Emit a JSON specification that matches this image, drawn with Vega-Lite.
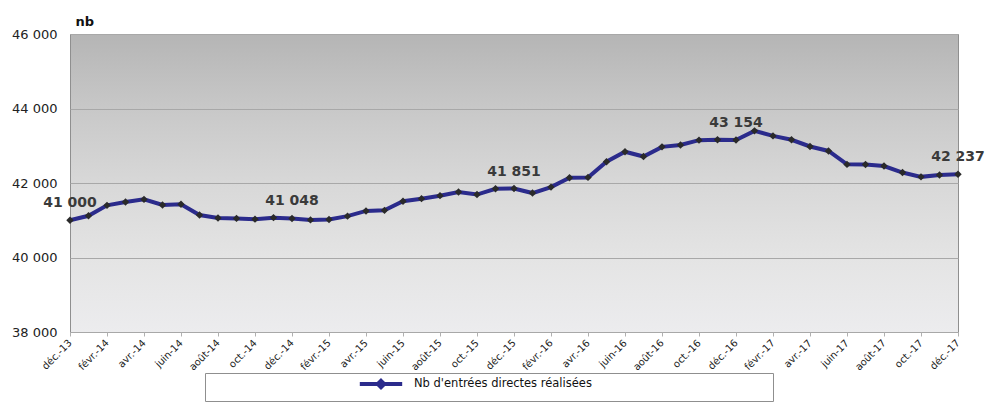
{
  "$schema": "https://vega.github.io/schema/vega-lite/v6.json",
  "width": 888,
  "height": 298,
  "autosize": "none",
  "padding": {"left": 70, "top": 34, "right": 29, "bottom": 86},
  "background": "white",
  "config": {
    "locale": {
      "number": {"decimal": ",", "thousands": " ", "grouping": [3], "currency": ["", " €"]}
    },
    "font": "DejaVu Sans",
    "view": {
      "fill": {
        "gradient": "linear",
        "x1": 0, "y1": 0, "x2": 0, "y2": 1,
        "stops": [
          {"offset": 0, "color": "#b5b5b5"},
          {"offset": 0.25, "color": "#c8c8c8"},
          {"offset": 0.5, "color": "#d8d8d8"},
          {"offset": 0.75, "color": "#e4e4e4"},
          {"offset": 1, "color": "#ececee"}
        ]
      },
      "stroke": "#8f8f8f",
      "strokeWidth": 1
    }
  },
  "data": {
    "values": [
      {"mois": "déc.-13", "nb": 41000},
      {"mois": "janv.-14", "nb": 41120},
      {"mois": "févr.-14", "nb": 41400},
      {"mois": "mars-14", "nb": 41490},
      {"mois": "avr.-14", "nb": 41560},
      {"mois": "mai-14", "nb": 41410},
      {"mois": "juin-14", "nb": 41430},
      {"mois": "juil.-14", "nb": 41140},
      {"mois": "août-14", "nb": 41060},
      {"mois": "sept.-14", "nb": 41050},
      {"mois": "oct.-14", "nb": 41030},
      {"mois": "nov.-14", "nb": 41070},
      {"mois": "déc.-14", "nb": 41048},
      {"mois": "janv.-15", "nb": 41010},
      {"mois": "févr.-15", "nb": 41020},
      {"mois": "mars-15", "nb": 41110},
      {"mois": "avr.-15", "nb": 41250},
      {"mois": "mai-15", "nb": 41266},
      {"mois": "juin-15", "nb": 41510},
      {"mois": "juil.-15", "nb": 41580},
      {"mois": "août-15", "nb": 41660},
      {"mois": "sept.-15", "nb": 41760},
      {"mois": "oct.-15", "nb": 41690},
      {"mois": "nov.-15", "nb": 41845},
      {"mois": "déc.-15", "nb": 41851},
      {"mois": "janv.-16", "nb": 41730},
      {"mois": "févr.-16", "nb": 41890},
      {"mois": "mars-16", "nb": 42140},
      {"mois": "avr.-16", "nb": 42150},
      {"mois": "mai-16", "nb": 42570},
      {"mois": "juin-16", "nb": 42840},
      {"mois": "juil.-16", "nb": 42710},
      {"mois": "août-16", "nb": 42970},
      {"mois": "sept.-16", "nb": 43020},
      {"mois": "oct.-16", "nb": 43150},
      {"mois": "nov.-16", "nb": 43160},
      {"mois": "déc.-16", "nb": 43154},
      {"mois": "janv.-17", "nb": 43400},
      {"mois": "févr.-17", "nb": 43265},
      {"mois": "mars-17", "nb": 43160},
      {"mois": "avr.-17", "nb": 42980},
      {"mois": "mai-17", "nb": 42860},
      {"mois": "juin-17", "nb": 42500},
      {"mois": "juil.-17", "nb": 42495},
      {"mois": "août-17", "nb": 42455},
      {"mois": "sept.-17", "nb": 42280},
      {"mois": "oct.-17", "nb": 42165},
      {"mois": "nov.-17", "nb": 42215},
      {"mois": "déc.-17", "nb": 42237}
    ]
  },
  "encoding": {
    "x": {
      "field": "mois",
      "type": "ordinal",
      "sort": null,
      "scale": {"type": "point", "padding": 0},
      "axis": {
        "title": null,
        "values": ["déc.-13", "févr.-14", "avr.-14", "juin-14", "août-14", "oct.-14", "déc.-14", "févr.-15", "avr.-15", "juin-15", "août-15", "oct.-15", "déc.-15", "févr.-16", "avr.-16", "juin-16", "août-16", "oct.-16", "déc.-16", "févr.-17", "avr.-17", "juin-17", "août-17", "oct.-17", "déc.-17"],
        "labelAngle": -45,
        "labelAlign": "right",
        "labelBaseline": "middle",
        "labelFontSize": 10,
        "labelColor": "#222",
        "labelPadding": 5,
        "domain": false,
        "grid": false,
        "ticks": true,
        "tickSize": 4,
        "tickColor": "#b0b0b0"
      }
    },
    "y": {
      "field": "nb",
      "type": "quantitative",
      "scale": {"domain": [38000, 46000], "nice": false, "zero": false},
      "axis": {
        "values": [38000, 40000, 42000, 44000, 46000],
        "format": ",d",
        "title": "nb",
        "titleAngle": 0,
        "titleX": 5,
        "titleY": -9,
        "titleAlign": "left",
        "titleBaseline": "alphabetic",
        "titleFontWeight": "bold",
        "titleFontSize": 13,
        "titleColor": "#111",
        "grid": true,
        "gridColor": "#a8a8a8",
        "gridWidth": 1,
        "domain": false,
        "ticks": false,
        "labelPadding": 13,
        "labelFontSize": 13,
        "labelColor": "#222"
      }
    }
  },
  "layer": [
    {
      "mark": {"type": "line", "strokeWidth": 4},
      "encoding": {
        "color": {
          "datum": "Nb d'entrées directes réalisées",
          "type": "nominal",
          "scale": {"range": ["#2b2b8c"]},
          "legend": {
            "orient": "none",
            "legendX": 135,
            "legendY": 339,
            "title": " ",
            "titleOrient": "right",
            "titlePadding": 176,
            "strokeColor": "#8f8f8f",
            "fillColor": "white",
            "padding": 5,
            "symbolType": "M-5.3,0H5.3M0,-0.8L0.8,0L0,0.8L-0.8,0Z",
            "symbolSize": 64,
            "symbolStrokeWidth": 4,
            "symbolOffset": 165,
            "labelFontSize": 11.5,
            "labelLimit": 400,
            "labelColor": "#111",
            "labelOffset": 27
          }
        }
      }
    },
    {
      "mark": {"type": "point", "shape": "diamond", "filled": true, "size": 55, "color": "#2a2a2a", "opacity": 1}
    },
    {
      "transform": [{"filter": "indexof(datum.mois, 'déc.') === 0"}],
      "mark": {"type": "text", "fontWeight": "bold", "fontSize": 14, "color": "#3a3a3a", "dy": -13, "baseline": "alphabetic"},
      "encoding": {
        "text": {"field": "nb", "type": "quantitative", "format": ",d"}
      }
    }
  ]
}
